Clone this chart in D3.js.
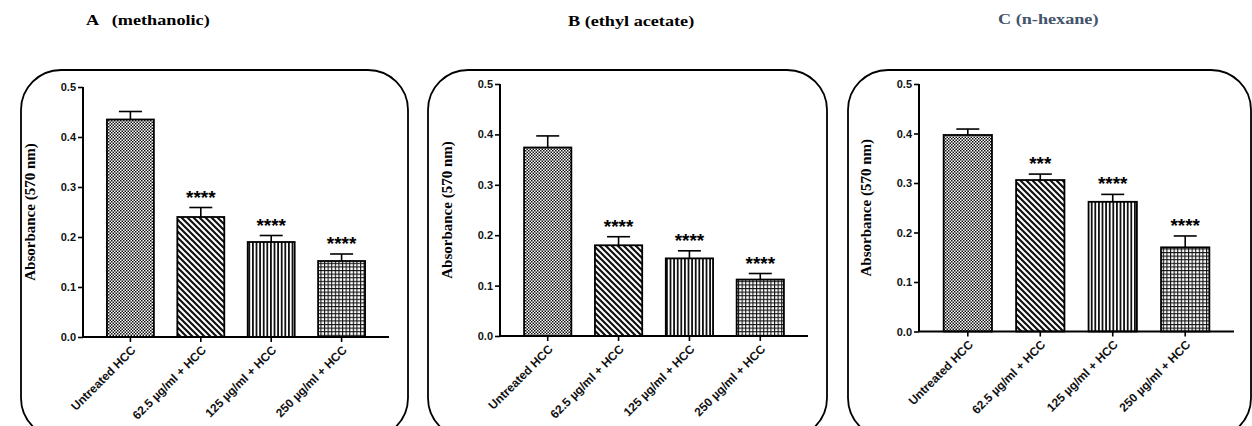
<!DOCTYPE html>
<html><head><meta charset="utf-8">
<script src="https://cdn.jsdelivr.net/npm/d3@7"></script>
<style>body{margin:0;background:#fff}svg{display:block}</style>
</head><body>
<svg id="chart" width="1252" height="426"></svg>
<script>
const categories = ["Untreated HCC", "62.5 \u00b5g/ml + HCC", "125 \u00b5g/ml + HCC", "250 \u00b5g/ml + HCC"];
const yTicks = [0.0, 0.1, 0.2, 0.3, 0.4, 0.5];
const titles = ["A   (methanolic)", "B (ethyl acetate)", "C (n-hexane)"];
const meansA = [0.435, 0.240, 0.190, 0.152];
const errA   = [0.016, 0.019, 0.013, 0.014];
const starsA = ["", "****", "****", "****"];
const meansB = [0.374, 0.180, 0.154, 0.112];
const errB   = [0.023, 0.017, 0.015, 0.012];
const starsB = ["", "****", "****", "****"];
const meansC = [0.397, 0.306, 0.262, 0.170];
const errC   = [0.012, 0.012, 0.015, 0.023];
const starsC = ["", "***", "****", "****"];
const yLabel = "Absorbance (570 nm)";

const svg = d3.select("#chart");
const defs = svg.append("defs");
// checker
const p1 = defs.append("pattern").attr("id","pat0").attr("patternUnits","userSpaceOnUse").attr("width",3).attr("height",3);
p1.append("rect").attr("width",3).attr("height",3).attr("fill","#fff");
p1.append("rect").attr("width",1.5).attr("height",1.5).attr("fill","#111");
p1.append("rect").attr("x",1.5).attr("y",1.5).attr("width",1.5).attr("height",1.5).attr("fill","#111");
// diagonal "\"
const p2 = defs.append("pattern").attr("id","pat1").attr("patternUnits","userSpaceOnUse").attr("width",6).attr("height",6);
p2.append("rect").attr("width",6).attr("height",6).attr("fill","#fff");
p2.append("path").attr("d","M-3,3 L3,9 M0,0 L6,6 M3,-3 L9,3").attr("stroke","#111").attr("stroke-width",2.2);
// vertical
const p3 = defs.append("pattern").attr("id","pat2").attr("patternUnits","userSpaceOnUse").attr("width",3.6).attr("height",4);
p3.append("rect").attr("width",3.6).attr("height",4).attr("fill","#fff");
p3.append("rect").attr("width",1.8).attr("height",4).attr("fill","#111");
// grid
const p4 = defs.append("pattern").attr("id","pat3").attr("patternUnits","userSpaceOnUse").attr("width",3.6).attr("height",3.6);
p4.append("rect").attr("width",3.6).attr("height",3.6).attr("fill","#111");
p4.append("rect").attr("x",1.1).attr("y",1.1).attr("width",2.5).attr("height",2.5).attr("fill","#fff");

const panels = [
  {means: meansA, err: errA, stars: starsA, title: titles[0], box:[21,70,387], x0:83, x1:389, y0:337, yTop:87, tx:86, ty:25, tcolor:"#000"},
  {means: meansB, err: errB, stars: starsB, title: titles[1], box:[428,70,399], x0:500, x1:808, y0:336, yTop:84, tx:568, ty:26, tcolor:"#000"},
  {means: meansC, err: errC, stars: starsC, title: titles[2], box:[848,70,403], x0:919, x1:1234, y0:331.5, yTop:84, tx:998, ty:24, tcolor:"#44546a"}
];

panels.forEach(p => {
  const g = svg.append("g");
  g.append("text").attr("transform",`translate(${p.tx},${p.ty}) scale(1.3,1)`).attr("fill",p.tcolor)
    .attr("font-family","'Liberation Serif', 'Times New Roman', serif").attr("font-weight","bold")
    .attr("font-size",14).style("white-space","pre").text(p.title);
  g.append("rect").attr("x",p.box[0]).attr("y",p.box[1]).attr("width",p.box[2]).attr("height",368)
    .attr("rx",40).attr("ry",40).attr("fill","none").attr("stroke","#000").attr("stroke-width",1.8);

  const x = d3.scaleBand().domain(categories).range([p.x0,p.x1]).paddingInner(0.333).paddingOuter(0.34);
  const y = d3.scaleLinear().domain([0,0.5]).range([p.y0,p.yTop]);

  // bars
  g.selectAll("rect.bar").data(p.means).join("rect").attr("class","bar")
    .attr("x",(d,i)=>x(categories[i])).attr("width",x.bandwidth())
    .attr("y",d=>y(d)).attr("height",d=>y(0)-y(d))
    .attr("fill",(d,i)=>`url(#pat${i})`).attr("stroke","#000").attr("stroke-width",1.8);

  // error bars
  p.means.forEach((m,i)=>{
    const cx = x(categories[i]) + x.bandwidth()/2;
    const top = y(m + p.err[i]);
    g.append("line").attr("x1",cx).attr("x2",cx).attr("y1",y(m)).attr("y2",top).attr("stroke","#000").attr("stroke-width",1.6);
    g.append("line").attr("x1",cx-11.5).attr("x2",cx+11.5).attr("y1",top).attr("y2",top).attr("stroke","#000").attr("stroke-width",1.6);
    if (p.stars[i]) {
      g.append("text").attr("x",cx).attr("y",top-4).attr("text-anchor","middle")
        .attr("font-family","'Liberation Sans', Arial, sans-serif").attr("font-weight","bold")
        .attr("font-size",19).attr("letter-spacing",0).text(p.stars[i]);
    }
  });

  // y axis
  const ya = g.append("g").attr("transform",`translate(${p.x0},0)`)
    .call(d3.axisLeft(y).tickValues(yTicks).tickFormat(d3.format(".1f")).tickSize(5).tickPadding(2));
  ya.select(".domain").attr("stroke-width",2).attr("d",`M0,${y(0)}V${y(0.5)}`);
  ya.selectAll(".tick line").attr("stroke-width",1.6);
  ya.selectAll("text").attr("font-family","'Liberation Sans', Arial, sans-serif").attr("font-weight","bold").attr("font-size",11).attr("fill","#111");

  // x axis
  const xa = g.append("g").attr("transform",`translate(0,${p.y0})`)
    .call(d3.axisBottom(x).tickSize(5).tickPadding(3));
  xa.select(".domain").attr("stroke-width",2).attr("d",`M${p.x0},0H${p.x1}`);
  xa.selectAll(".tick line").attr("stroke-width",1.6);
  xa.selectAll("text").attr("font-family","'Liberation Sans', Arial, sans-serif").attr("font-weight","bold").attr("font-size",12).attr("fill","#111")
    .attr("x",0).attr("y",0).attr("text-anchor","end").attr("dy","0.35em").attr("transform","translate(3,11) rotate(-45)");

  // y label
  g.append("text").attr("transform",`translate(${p.x0-48},${(p.y0+p.yTop)/2}) rotate(-90)`)
    .attr("text-anchor","middle").attr("font-family","'Liberation Serif', 'Times New Roman', serif")
    .attr("font-weight","bold").attr("font-size",15).text(yLabel);
});
</script>
</body></html>
